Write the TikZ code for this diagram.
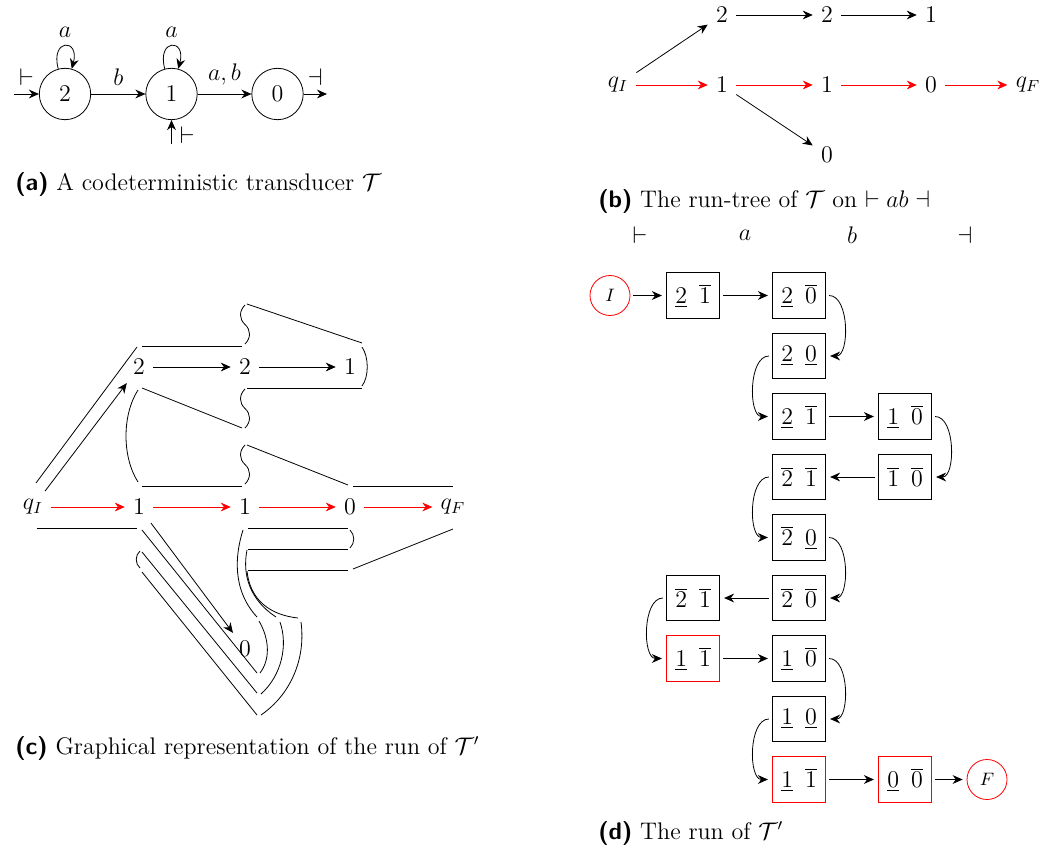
\documentclass[tikz,border=0pt,12pt]{standalone}
\usepackage{tikz}
\usetikzlibrary{automata,arrows.meta}

\newcommand{\dupla}[2]{$#1$\hspace{6pt}$#2$}

\begin{document}
\begin{tikzpicture}[x=0.5pt,y=-0.5pt,>={Stealth[length=5pt,width=4.4pt]},
  estado/.style={state,minimum size=25.7pt,inner sep=0pt},
  caja/.style={draw,minimum width=26.7pt,minimum height=22.8pt,inner sep=0pt},
  cajaroja/.style={caja,draw=red},
  extremo/.style={draw=red,circle,minimum size=20pt,inner sep=0pt,font=\fontsize{9}{11}\selectfont},
  flecha/.style={->,shorten <=1.5pt,shorten >=2pt},
  pie/.style={anchor=west},
  every loop/.style={looseness=6}]
  \useasboundingbox (0,0) rectangle (1052,850);

  % (a) transductor
  \node[estado] (t2) at (65,94) {$2$};
  \node[estado] (t1) at (171.5,94) {$1$};
  \node[estado] (t0) at (277.5,94) {$0$};
  \coordinate (e2) at (14,94);
  \coordinate (e1) at (171.5,144);
  \coordinate (s0) at (327,94);
  \draw[->] (e2) -- node[above]{$\vdash$} (t2);
  \draw[->] (e1) -- node[right,pos=0.35]{$\vdash$} (t1);
  \draw[->] (t0) -- node[above]{$\dashv$} (s0);
  \draw[->] (t2) -- node[above]{$b$} (t1);
  \draw[->] (t1) -- node[above]{$a,b$} (t0);
  \path[->] (t2) edge[loop above] node{$a$} ();
  \path[->] (t1) edge[loop above] node{$a$} ();
  \node[pie] (capa) at (7,185) {\textsf{\textbf{(a)}} A codeterministic transducer $\mathcal{T}$};

  % (b) arbol de ejecucion
  \node (bqI) at (618,85) {$q_I$};
  \node (b12) at (722,15) {$2$};
  \node (b22) at (827,15) {$2$};
  \node (b31) at (931,15) {$1$};
  \node (b11) at (722,85) {$1$};
  \node (b21) at (827,85) {$1$};
  \node (b30) at (931,85) {$0$};
  \node (bqF) at (1028,85) {$q_F$};
  \node (b20) at (827,155) {$0$};
  \draw[->] (bqI) -- (b12);
  \draw[->] (b12) -- (b22);
  \draw[->] (b22) -- (b31);
  \draw[->] (b11) -- (b20);
  \draw[->,red] (bqI) -- (b11);
  \draw[->,red] (b11) -- (b21);
  \draw[->,red] (b21) -- (b30);
  \draw[->,red] (b30) -- (bqF);
  \node[pie] (capb) at (590,201) {\textsf{\textbf{(b)}} The run-tree of $\mathcal{T}$ on $\vdash ab \dashv$};

  % letras de la entrada
  \node (h1) at (640,235) {$\vdash$};
  \node (h2) at (745,235) {$a$};
  \node (h3) at (852,235) {$b$};
  \node (h4) at (965,235) {$\dashv$};

  % (c) representacion grafica
  \node (cqI) at (33,507) {$q_I$};
  \node (c11) at (139,507) {$1$};
  \node (c21) at (245,507) {$1$};
  \node (c30) at (350,507) {$0$};
  \node (cqF) at (453,507) {$q_F$};
  \node (c12) at (139,367) {$2$};
  \node (c22) at (245,367) {$2$};
  \node (c31) at (350,367) {$1$};
  \node (c20) at (245,649) {$0$};
  \draw[->] (cqI) -- (c12);
  \draw[->] (c12) -- (c22);
  \draw[->] (c22) -- (c31);
  \draw[->] (c11) -- (c20);
  \draw[->,red] (cqI) -- (c11);
  \draw[->,red] (c11) -- (c21);
  \draw[->,red] (c21) -- (c30);
  \draw[->,red] (c30) -- (cqF);
  % contorno de arriba
  \draw (36,483) -- (137,347);
  \draw (142,346) -- (242,346);
  \draw (247,304) -- (362,343);
  \draw (362,347) .. controls (369,357) and (369,377) .. (362,386);
  \draw (247,388) -- (362,388);
  \draw (142,388) -- (242,428);
  \draw (138,390) .. controls (122,415) and (122,457) .. (138,482);
  \draw (247,445) -- (348,485);
  \draw (142,486) -- (242,486);
  \draw (353,486) -- (453,486);
  % ondas
  \foreach \y in {305,389,445}
    \draw (245,\y) .. controls (239,\y+6) and (239,\y+14) .. (245,\y+19.5)
      .. controls (251,\y+25) and (251,\y+33) .. (245,\y+39);
  % contorno de abajo
  \draw (37,528) -- (137,528);
  \draw (142,530) -- (257,673);
  \draw (142,552) -- (257,693);
  \draw (142,572) -- (257,715);
  \draw (140,551) .. controls (135,555) and (135,564) .. (140,568);
  \draw (248,528) -- (348,528);
  \draw (248,549) -- (348,549);
  \draw (248,570) -- (348,570);
  \draw (350,530) .. controls (355,535) and (355,543) .. (350,548);
  \draw (353,569) -- (453,529);
  \draw (243,530) .. controls (235,555) and (232,590) .. (257,617);
  \draw (247,550) .. controls (242,575) and (250,600) .. (276,617);
  \draw (247,571) .. controls (250,600) and (270,615) .. (298,618);
  \draw (259,621) .. controls (270,640) and (270,660) .. (260,673);
  \draw (280,622) .. controls (288,645) and (282,675) .. (261,694);
  \draw (301,622) .. controls (306,660) and (290,695) .. (261,715);
  \node[pie] (capc) at (7,748) {\textsf{\textbf{(c)}} Graphical representation of the run of $\mathcal{T}'$};

  % (d) la ejecucion
  \node[extremo] (dI) at (610,295.5) {$I$};
  \node[caja] (d11) at (693,295.5) {\dupla{\underline{2}}{\overline{1}}};
  \node[caja] (d12) at (799,295.5) {\dupla{\underline{2}}{\overline{0}}};
  \node[caja] (d22) at (799,356) {\dupla{\underline{2}}{\underline{0}}};
  \node[caja] (d32) at (799,416.5) {\dupla{\underline{2}}{\overline{1}}};
  \node[caja] (d33) at (905,416.5) {\dupla{\underline{1}}{\overline{0}}};
  \node[caja] (d42) at (799,477) {\dupla{\overline{2}}{\overline{1}}};
  \node[caja] (d43) at (905,477) {\dupla{\overline{1}}{\overline{0}}};
  \node[caja] (d52) at (799,537.5) {\dupla{\overline{2}}{\underline{0}}};
  \node[caja] (d61) at (693,598) {\dupla{\overline{2}}{\overline{1}}};
  \node[caja] (d62) at (799,598) {\dupla{\overline{2}}{\overline{0}}};
  \node[cajaroja] (d71) at (693,658.5) {\dupla{\underline{1}}{\overline{1}}};
  \node[caja] (d72) at (799,658.5) {\dupla{\underline{1}}{\overline{0}}};
  \node[caja] (d82) at (799,719) {\dupla{\underline{1}}{\underline{0}}};
  \node[cajaroja] (d92) at (799,779.5) {\dupla{\underline{1}}{\overline{1}}};
  \node[cajaroja] (d93) at (905,779.5) {\dupla{\underline{0}}{\overline{0}}};
  \node[extremo] (dF) at (987,779.5) {$F$};
  \draw[flecha] (dI) -- (d11);
  \draw[flecha] (d11) -- (d12);
  \draw[flecha] (d12.east) to[out=0,in=0] (d22.east);
  \draw[flecha] (d22.west) to[out=180,in=180] (d32.west);
  \draw[flecha] (d32) -- (d33);
  \draw[flecha] (d33.east) to[out=0,in=0] (d43.east);
  \draw[flecha] (d43) -- (d42);
  \draw[flecha] (d42.west) to[out=180,in=180] (d52.west);
  \draw[flecha] (d52.east) to[out=0,in=0] (d62.east);
  \draw[flecha] (d62) -- (d61);
  \draw[flecha] (d61.west) to[out=180,in=180] (d71.west);
  \draw[flecha] (d71) -- (d72);
  \draw[flecha] (d72.east) to[out=0,in=0] (d82.east);
  \draw[flecha] (d82.west) to[out=180,in=180] (d92.west);
  \draw[flecha] (d92) -- (d93);
  \draw[flecha] (d93) -- (dF);
  \node[pie] (capd) at (590,833) {\textsf{\textbf{(d)}} The run of $\mathcal{T}'$};
\end{tikzpicture}
\end{document}
